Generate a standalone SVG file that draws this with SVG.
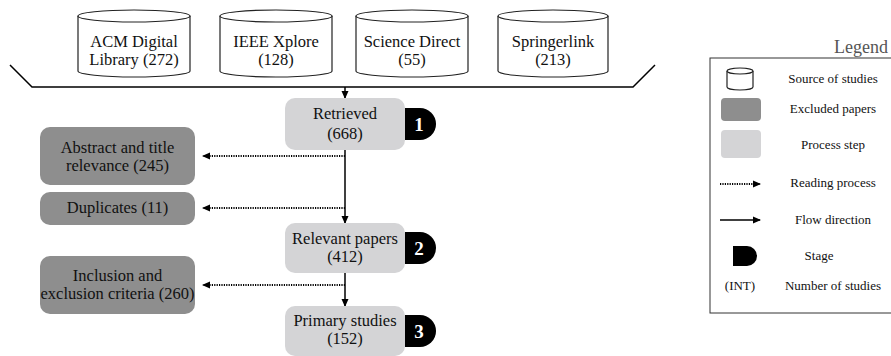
<svg xmlns="http://www.w3.org/2000/svg" width="891" height="356" viewBox="0 0 891 356" font-family="'Liberation Serif', 'Times New Roman', 'DejaVu Serif', serif">
<defs>
<style>
text{fill:#111;text-anchor:middle}
.t{font-size:16.5px}
.l{font-size:13px}
.cyl{fill:#fff;stroke:#222;stroke-width:1.2}
.proc{fill:#d4d4d6}
.excl{fill:#8e8e8e}
.flow{stroke:#000;stroke-width:1.5;fill:none}
.read{stroke:#000;stroke-width:2;stroke-dasharray:1.2 1.2;fill:none}
.badge{fill:#000}
.bn{font-weight:bold;font-size:19px;fill:#fff}
</style>
<marker id="ah" markerWidth="8" markerHeight="8" refX="7" refY="4" orient="auto" markerUnits="userSpaceOnUse">
<path d="M0,0.5 L8,4 L0,7.5 Z" fill="#000"/>
</marker>
</defs>

<g id="connectors">
<polyline points="10,65 32,87 633,87 655,65" class="flow" stroke-width="1.4"/>
<line x1="345" y1="87" x2="345" y2="98" class="flow" marker-end="url(#ah)"/>
<line x1="345" y1="150" x2="345" y2="223" class="flow" marker-end="url(#ah)"/>
<line x1="345" y1="273" x2="345" y2="306" class="flow" marker-end="url(#ah)"/>
<line x1="345" y1="156" x2="203" y2="156" class="read" marker-end="url(#ah)"/>
<line x1="345" y1="208" x2="203" y2="208" class="read" marker-end="url(#ah)"/>
<line x1="345" y1="285" x2="203" y2="285" class="read" marker-end="url(#ah)"/>
</g>

<g id="acm">
<path d="M78,16 V71 A56,6 0 0 0 190,71 V16" class="cyl"/>
<ellipse cx="134" cy="16" rx="56" ry="6" class="cyl"/>
<text class="t" x="134" y="47">ACM Digital</text>
<text class="t" x="134" y="65">Library (272)</text>
</g>
<g id="ieee">
<path d="M220,16 V71 A56,6 0 0 0 332,71 V16" class="cyl"/>
<ellipse cx="276" cy="16" rx="56" ry="6" class="cyl"/>
<text class="t" x="276" y="47">IEEE Xplore</text>
<text class="t" x="276" y="65">(128)</text>
</g>
<g id="sciencedirect">
<path d="M356,16 V71 A56,6 0 0 0 468,71 V16" class="cyl"/>
<ellipse cx="412" cy="16" rx="56" ry="6" class="cyl"/>
<text class="t" x="412" y="47">Science Direct</text>
<text class="t" x="412" y="65">(55)</text>
</g>
<g id="springerlink">
<path d="M498,16 V71 A55,6 0 0 0 608,71 V16" class="cyl"/>
<ellipse cx="553" cy="16" rx="55" ry="6" class="cyl"/>
<text class="t" x="553" y="47">Springerlink</text>
<text class="t" x="553" y="65">(213)</text>
</g>

<g id="retrieved">
<rect x="285" y="98" width="120" height="52" rx="10" class="proc"/>
<text class="t" x="345" y="119">Retrieved</text>
<text class="t" x="345" y="139">(668)</text>
</g>
<g id="stage1">
<path d="M405,108 H420 A16,16 0 0 1 420,140 H405 Z" class="badge"/>
<text class="bn" x="419" y="131">1</text>
</g>

<g id="abstract">
<rect x="40" y="127" width="155" height="58" rx="10" class="excl"/>
<text class="t" x="117.5" y="153">Abstract and title</text>
<text class="t" x="117.5" y="171">relevance (245)</text>
</g>
<g id="duplicates">
<rect x="40" y="192" width="155" height="33" rx="10" class="excl"/>
<text class="t" x="117.5" y="213">Duplicates (11)</text>
</g>

<g id="relevant">
<rect x="285" y="223" width="120" height="50" rx="10" class="proc"/>
<text class="t" x="345" y="244">Relevant papers</text>
<text class="t" x="345" y="262">(412)</text>
</g>
<g id="stage2">
<path d="M405,232 H420 A16,16 0 0 1 420,264 H405 Z" class="badge"/>
<text class="bn" x="419" y="255">2</text>
</g>

<g id="inclusion">
<rect x="40" y="256" width="155" height="58" rx="10" class="excl"/>
<text class="t" x="117.5" y="281">Inclusion and</text>
<text class="t" x="117.5" y="299">exclusion criteria (260)</text>
</g>

<g id="primary">
<rect x="285" y="306" width="120" height="50" rx="10" class="proc"/>
<text class="t" x="345" y="326">Primary studies</text>
<text class="t" x="345" y="344">(152)</text>
</g>
<g id="stage3">
<path d="M405,315 H420 A16,16 0 0 1 420,347 H405 Z" class="badge"/>
<text class="bn" x="419" y="338">3</text>
</g>

<g id="legend">
<text x="888" y="53" style="font-size:18px;fill:#555;text-anchor:end">Legend</text>
<rect x="710" y="58" width="200" height="255" fill="#fff" stroke="#333" stroke-width="1"/>
<path d="M727,71 V87 A13,3 0 0 0 753,87 V71" class="cyl" stroke-width="1"/>
<ellipse cx="740" cy="71" rx="13" ry="3" class="cyl" stroke-width="1"/>
<text class="l" x="833" y="83">Source of studies</text>
<rect x="721" y="98" width="40" height="23" rx="4" class="excl"/>
<text class="l" x="833" y="113">Excluded papers</text>
<rect x="721" y="130" width="40" height="28" rx="4" class="proc"/>
<text class="l" x="833" y="149">Process step</text>
<line x1="720" y1="184" x2="760" y2="184" class="read" stroke-width="1.5" marker-end="url(#ah)"/>
<text class="l" x="833" y="187">Reading process</text>
<line x1="720" y1="220" x2="760" y2="220" class="flow" marker-end="url(#ah)"/>
<text class="l" x="833" y="224">Flow direction</text>
<path d="M733,246 H747 A10,10 0 0 1 747,266 H733 Z" class="badge"/>
<text class="l" x="819" y="260">Stage</text>
<text class="l" x="740" y="290">(INT)</text>
<text class="l" x="833" y="290">Number of studies</text>
</g>
</svg>
